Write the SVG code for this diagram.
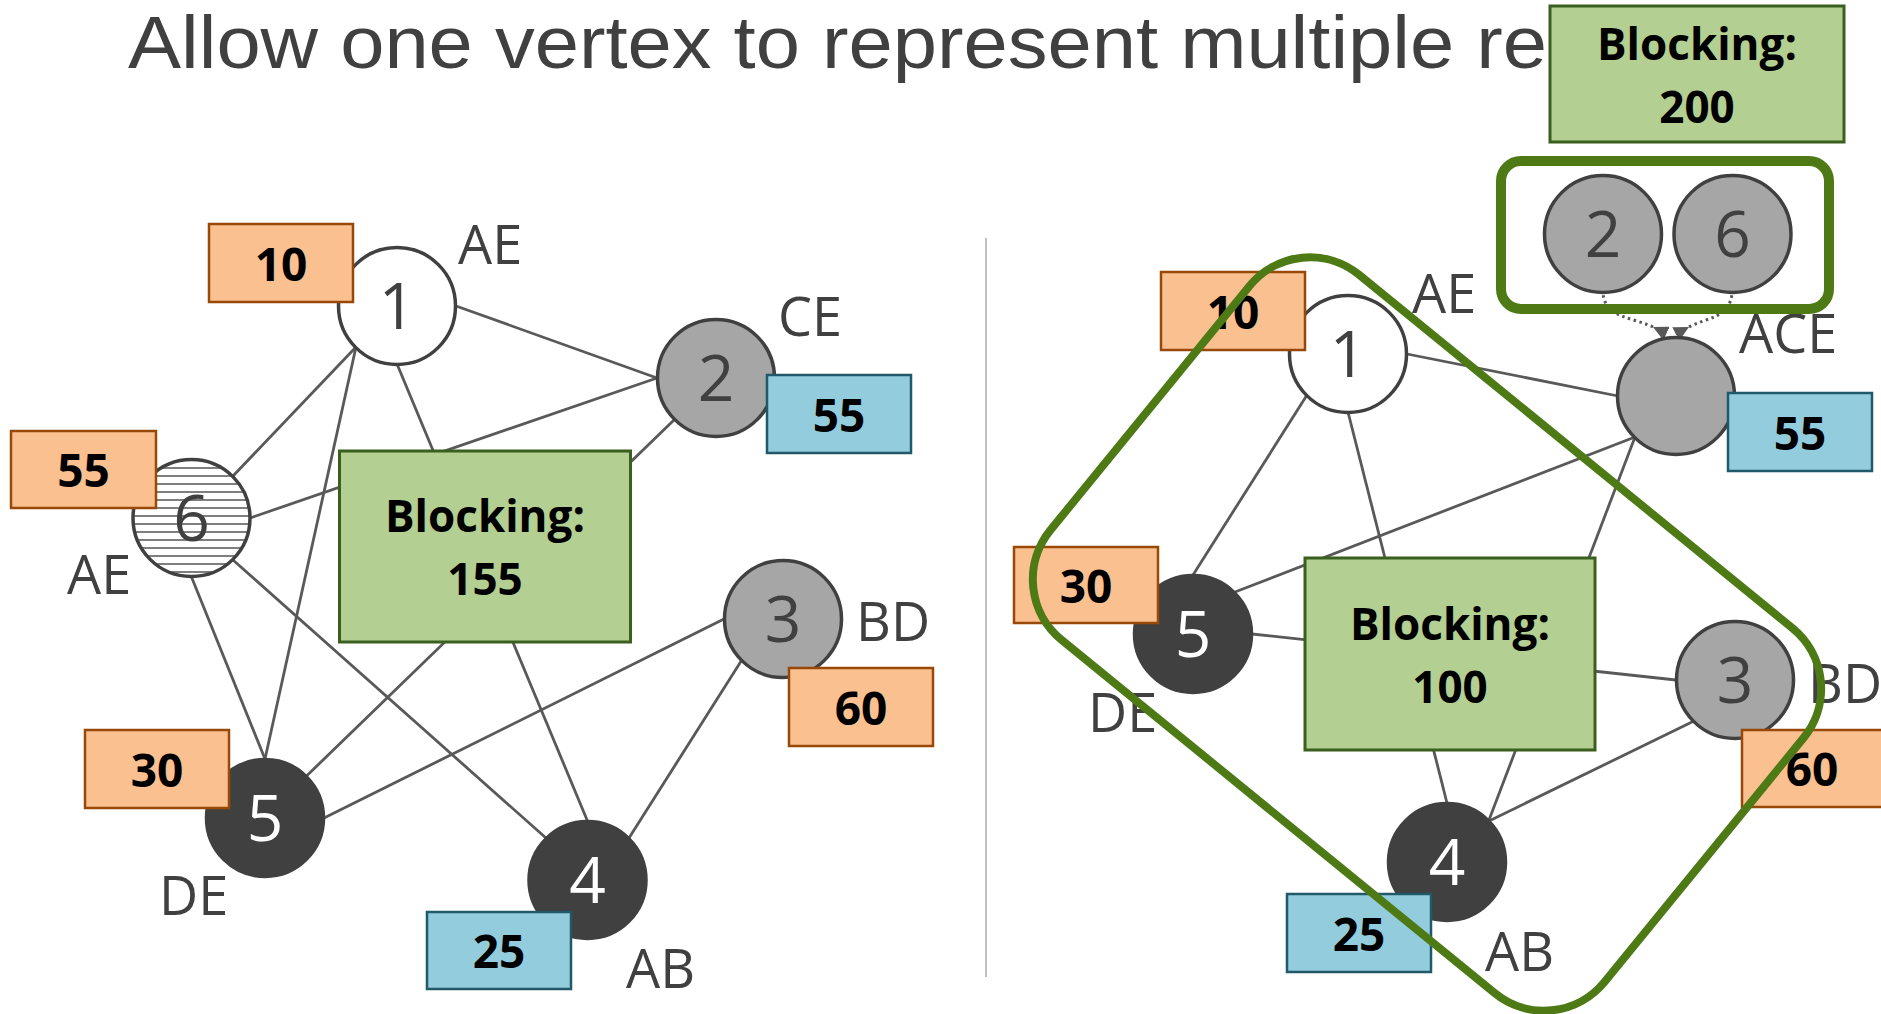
<svg xmlns="http://www.w3.org/2000/svg" width="1881" height="1014" viewBox="0 0 1881 1014">
<style>
.edge{stroke:#595959;stroke-width:2.8;fill:none}
.dot{stroke:#595959;stroke-width:3;fill:none;stroke-dasharray:2.5 3.5}
.cw{fill:#fff;stroke:#404040;stroke-width:3.5}
.cg{fill:#a6a6a6;stroke:#404040;stroke-width:3.5}
.cd{fill:#404040;stroke:#404040;stroke-width:3.5}
.ch{fill:url(#hatch);stroke:#404040;stroke-width:3.5}
.num{font-family:"Open Sans","Liberation Sans",sans-serif;font-size:64px;fill:#404040;text-anchor:middle}
.numw{font-family:"Open Sans","Liberation Sans",sans-serif;font-size:64px;fill:#fff;text-anchor:middle}
.lbl{font-family:"Open Sans","Liberation Sans",sans-serif;font-size:54px;fill:#404040}
.bo{fill:#fac090;stroke:#984807;stroke-width:2.5}
.bb{fill:#93cddd;stroke:#215968;stroke-width:2.5}
.bgr{fill:#b3cf91;stroke:#3b5f1f;stroke-width:3}
.bt{font-family:"Open Sans","Liberation Sans",sans-serif;font-weight:bold;font-size:46px;fill:#000;text-anchor:middle}
.blk{font-family:"Open Sans","Liberation Sans",sans-serif;font-weight:bold;font-size:44px;fill:#000;text-anchor:middle}
.grp{fill:none;stroke:#4e7a16}
</style>
<defs>
<pattern id="hatch" width="8" height="8" patternUnits="userSpaceOnUse">
<rect width="8" height="8" fill="#fff"/>
<rect y="3" width="8" height="2" fill="#7f7f7f"/>
</pattern>
<marker id="arr" viewBox="0 0 10 10" refX="10" refY="5" markerWidth="15" markerHeight="15" markerUnits="userSpaceOnUse" orient="auto">
<path d="M0,0 L10,5 L0,10 z" fill="#595959"/>
</marker>
</defs>
<rect width="1881" height="1014" fill="#fff"/>

<text x="128" y="68" font-family="'Liberation Sans',Arial,sans-serif" font-size="74" fill="#404040" textLength="1419" lengthAdjust="spacingAndGlyphs">Allow one vertex to represent multiple re</text>

<g id="blocking200">
<rect x="1550" y="6" width="294" height="136" class="bgr"/>
<text x="1697" y="60" class="blk">Blocking:</text>
<text x="1697" y="123" class="blk">200</text>
</g>

<line x1="986" y1="238" x2="986" y2="977" stroke="#bfbfbf" stroke-width="2"/>

<g id="connectors">
<line class="edge" x1="456" y1="306" x2="657" y2="378"/>
<line class="edge" x1="356" y1="347" x2="233" y2="476"/>
<line class="edge" x1="356" y1="347" x2="265" y2="759"/>
<line class="edge" x1="397" y1="364" x2="587.5" y2="821"/>
<line class="edge" x1="657" y1="378" x2="250" y2="518"/>
<line class="edge" x1="674.5" y1="419.5" x2="306.5" y2="776"/>
<line class="edge" x1="191.5" y1="577" x2="265" y2="759"/>
<line class="edge" x1="233" y1="560" x2="546" y2="838"/>
<line class="edge" x1="724" y1="619" x2="324" y2="818"/>
<line class="edge" x1="741.5" y1="660.5" x2="629" y2="838"/>

<line class="edge" x1="1407" y1="354" x2="1618" y2="396"/>
<line class="edge" x1="1307" y1="395" x2="1193" y2="575"/>
<line class="edge" x1="1348" y1="412" x2="1447" y2="803"/>
<line class="edge" x1="1635" y1="437" x2="1235" y2="592"/>
<line class="edge" x1="1635" y1="437" x2="1489" y2="820"/>
<line class="edge" x1="1252" y1="634" x2="1676" y2="680"/>
<line class="edge" x1="1694" y1="721" x2="1489" y2="821"/>

<path class="dot" d="M1653,327 C1632,317 1606,318 1603,294" marker-start="url(#arr)"/>
<path class="dot" d="M1689,327 C1708,317 1729,318 1732,294" marker-start="url(#arr)"/>
</g>

<!-- Left graph -->
<g id="blocking155">
<rect x="339.5" y="451" width="291" height="191" class="bgr"/>
<text x="485" y="532" class="blk">Blocking:</text>
<text x="485" y="595" class="blk">155</text>
</g>
<g id="L1">
<circle cx="397" cy="306" r="58.5" class="cw"/>
<text x="397" y="329" class="num">1</text>
<text x="458" y="264" class="lbl">AE</text>
<rect x="209" y="224" width="144" height="78" class="bo"/>
<text x="281" y="280.5" class="bt">10</text>
</g>
<g id="L2">
<circle cx="716" cy="378" r="58.5" class="cg"/>
<text x="716" y="401" class="num">2</text>
<text x="778" y="336" class="lbl">CE</text>
<rect x="767" y="375" width="144" height="78" class="bb"/>
<text x="839" y="431.5" class="bt">55</text>
</g>
<g id="L6">
<circle cx="191.5" cy="518" r="58.5" class="ch"/>
<text x="191.5" y="541" class="num">6</text>
<text x="67" y="594" class="lbl">AE</text>
<rect x="11" y="431" width="145" height="77" class="bo"/>
<text x="83.5" y="487" class="bt">55</text>
</g>
<g id="L3">
<circle cx="783" cy="619" r="58.5" class="cg"/>
<text x="783" y="642" class="num">3</text>
<text x="856" y="641" class="lbl">BD</text>
<rect x="789" y="668" width="144" height="78" class="bo"/>
<text x="861" y="724.5" class="bt">60</text>
</g>
<g id="L5">
<circle cx="265" cy="818" r="58.5" class="cd"/>
<text x="265" y="841" class="numw">5</text>
<text x="159" y="915" class="lbl">DE</text>
<rect x="85" y="730" width="144" height="78" class="bo"/>
<text x="157" y="786.5" class="bt">30</text>
</g>
<g id="L4">
<circle cx="587.5" cy="880" r="58.5" class="cd"/>
<text x="587.5" y="903" class="numw">4</text>
<text x="626" y="988" class="lbl">AB</text>
<rect x="427" y="912" width="144" height="77" class="bb"/>
<text x="499" y="968" class="bt">25</text>
</g>

<!-- Right graph -->
<g id="blocking100">
<rect x="1305" y="558" width="290" height="192" class="bgr"/>
<text x="1450" y="640" class="blk">Blocking:</text>
<text x="1450" y="703" class="blk">100</text>
</g>
<g id="R1">
<circle cx="1348" cy="354" r="58.5" class="cw"/>
<text x="1348" y="377" class="num">1</text>
<text x="1412" y="313" class="lbl">AE</text>
<rect x="1161" y="272" width="144" height="78" class="bo"/>
<text x="1233" y="328.5" class="bt">10</text>
</g>
<g id="RACE">
<circle cx="1676" cy="396" r="58.5" class="cg"/>
<text x="1739" y="353" class="lbl">ACE</text>
<rect x="1728" y="393" width="144" height="78" class="bb"/>
<text x="1800" y="449.5" class="bt">55</text>
</g>
<g id="R5">
<circle cx="1193" cy="634" r="58.5" class="cd"/>
<text x="1193" y="657" class="numw">5</text>
<text x="1088" y="732" class="lbl">DE</text>
<rect x="1014" y="547" width="144" height="76" class="bo"/>
<text x="1086" y="602.5" class="bt">30</text>
</g>
<g id="R3">
<circle cx="1735" cy="680" r="58.5" class="cg"/>
<text x="1735" y="703" class="num">3</text>
<text x="1808" y="703" class="lbl">BD</text>
<rect x="1742" y="730" width="144" height="77" class="bo"/>
<text x="1812" y="786" class="bt">60</text>
</g>
<g id="R4">
<circle cx="1447" cy="862" r="58.5" class="cd"/>
<text x="1447" y="885" class="numw">4</text>
<text x="1485" y="971" class="lbl">AB</text>
<rect x="1287" y="894" width="144" height="78" class="bb"/>
<text x="1359" y="950.5" class="bt">25</text>
</g>

<g id="merged26">
<circle cx="1603" cy="234" r="58.5" class="cg"/>
<text x="1603" y="257" class="num">2</text>
<circle cx="1732.5" cy="234" r="58.5" class="cg"/>
<text x="1732.5" y="257" class="num">6</text>
<rect x="1501" y="161" width="328" height="148" rx="20" class="grp" stroke-width="10"/>
</g>

<g id="group-outline">
<rect x="-357.5" y="-235.5" width="715" height="471" rx="78" class="grp" stroke-width="8" transform="translate(1427,634) rotate(39.2)"/>
</g>
</svg>
